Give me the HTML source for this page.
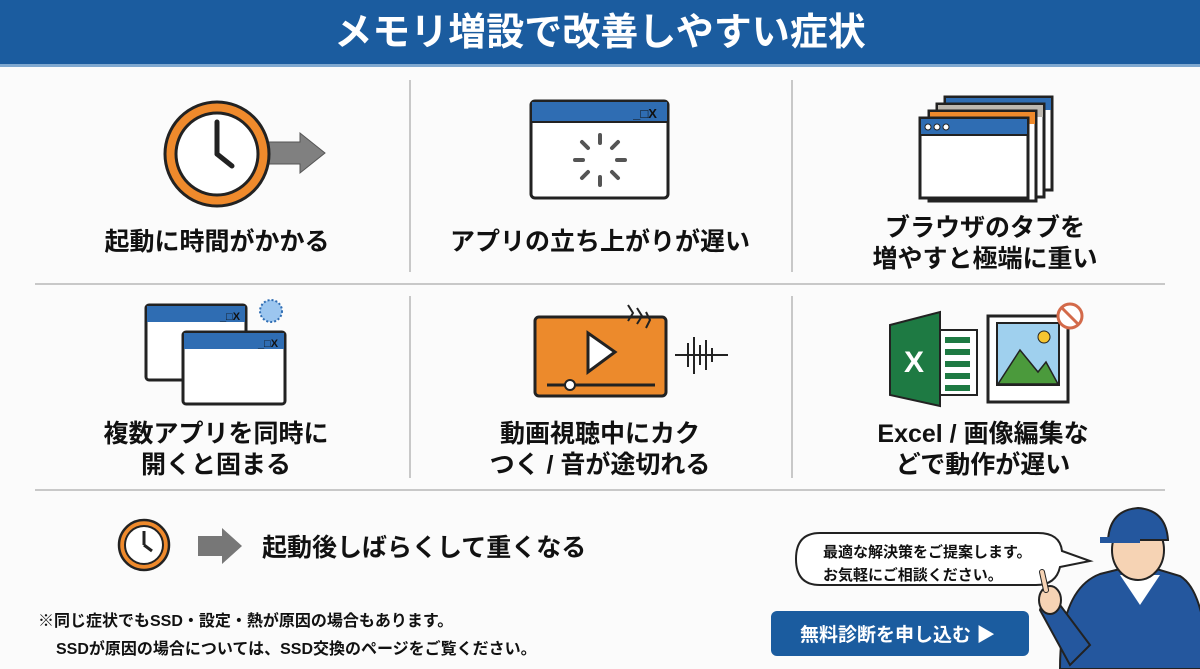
<!DOCTYPE html>
<html><head><meta charset="utf-8"><style>
html,body{margin:0;padding:0;background:#fbfbfb}
svg{display:block}
text{font-family:"Liberation Sans","Noto Sans CJK JP",sans-serif;font-weight:bold}
</style></head><body>
<svg width="1200" height="669" viewBox="0 0 1200 669" xmlns="http://www.w3.org/2000/svg">
<rect width="1200" height="669" fill="#fbfbfb"/>
<rect width="1200" height="64" fill="#1b5c9f"/>
<rect y="64" width="1200" height="3" fill="#7fa8d0"/>
<text x="600" y="45" font-size="38" fill="#fff" text-anchor="middle">メモリ増設で改善しやすい症状</text>
<g stroke="#c8c8c8" stroke-width="2">
<line x1="410" y1="80" x2="410" y2="272"/><line x1="792" y1="80" x2="792" y2="272"/>
<line x1="35" y1="284" x2="1165" y2="284"/>
<line x1="410" y1="296" x2="410" y2="478"/><line x1="792" y1="296" x2="792" y2="478"/>
<line x1="35" y1="490" x2="1165" y2="490"/>
</g>
<!-- clock 1 -->
<polygon points="268,142 300,142 300,133 325,153 300,173 300,164 268,164" fill="#808080" stroke="#555" stroke-width="1"/>
<circle cx="217" cy="154" r="52" fill="#ef8a2c" stroke="#222" stroke-width="3"/>
<circle cx="217" cy="154" r="41" fill="#fff" stroke="#222" stroke-width="3"/>
<line x1="217" y1="154" x2="217" y2="122" stroke="#222" stroke-width="5" stroke-linecap="round"/>
<line x1="217" y1="154" x2="232" y2="166" stroke="#222" stroke-width="5" stroke-linecap="round"/>
<text x="217" y="250" font-size="25" fill="#111" text-anchor="middle">起動に時間がかかる</text>
<!-- window spinner -->
<rect x="531" y="101" width="137" height="97" rx="4" fill="#fff" stroke="#222" stroke-width="3"/>
<rect x="532" y="102" width="135" height="20" fill="#2f6db3"/>
<line x1="531" y1="122" x2="668" y2="122" stroke="#222" stroke-width="2"/>
<text x="645" y="118" font-size="13" fill="#111" text-anchor="middle" font-weight="normal">_□X</text>
<g stroke="#555" stroke-width="4" stroke-linecap="round">
<line x1="600" y1="135" x2="600" y2="143"/><line x1="600" y1="177" x2="600" y2="185"/>
<line x1="575" y1="160" x2="583" y2="160"/><line x1="617" y1="160" x2="625" y2="160"/>
<line x1="582" y1="142" x2="588" y2="148"/><line x1="612" y1="172" x2="618" y2="178"/>
<line x1="618" y1="142" x2="612" y2="148"/><line x1="582" y1="178" x2="588" y2="172"/>
</g>
<text x="600" y="250" font-size="25" fill="#111" text-anchor="middle">アプリの立ち上がりが遅い</text>
<!-- tabs stack -->
<rect x="945" y="97" width="107" height="93" fill="#fff" stroke="#222" stroke-width="3"/><rect x="946" y="98" width="105" height="12" fill="#2f6db3"/>
<rect x="937" y="104" width="107" height="93" fill="#fff" stroke="#222" stroke-width="3"/><rect x="938" y="105" width="105" height="12" fill="#bdb8b0"/>
<rect x="929" y="111" width="107" height="90" fill="#fff" stroke="#222" stroke-width="3"/><rect x="930" y="112" width="105" height="12" fill="#ef8a2c"/>
<rect x="920" y="118" width="108" height="80" fill="#fff" stroke="#222" stroke-width="3"/><rect x="921" y="119" width="106" height="16" fill="#2f6db3"/>
<line x1="920" y1="135" x2="1028" y2="135" stroke="#222" stroke-width="2"/>
<circle cx="928" cy="127" r="3" fill="#fff" stroke="#222"/><circle cx="937" cy="127" r="3" fill="#fff" stroke="#222"/><circle cx="946" cy="127" r="3" fill="#fff" stroke="#222"/>
<text x="985" y="236" font-size="25" fill="#111" text-anchor="middle">ブラウザのタブを</text>
<text x="985" y="267" font-size="25" fill="#111" text-anchor="middle">増やすと極端に重い</text>
<!-- two windows -->
<rect x="146" y="305" width="100" height="75" rx="3" fill="#fff" stroke="#222" stroke-width="3"/><rect x="147" y="306" width="98" height="16" fill="#2f6db3"/>
<text x="230" y="320" font-size="11" fill="#111" text-anchor="middle" font-weight="normal">_□X</text>
<rect x="183" y="332" width="102" height="72" rx="3" fill="#fff" stroke="#222" stroke-width="3"/><rect x="184" y="333" width="100" height="16" fill="#2f6db3"/>
<text x="268" y="347" font-size="11" fill="#111" text-anchor="middle" font-weight="normal">_□X</text>
<circle cx="271" cy="311" r="11" fill="#9cc6ef" stroke="#2f6db3" stroke-width="2" stroke-dasharray="2 2"/>
<text x="216" y="442" font-size="25" fill="#111" text-anchor="middle">複数アプリを同時に</text>
<text x="216" y="473" font-size="25" fill="#111" text-anchor="middle">開くと固まる</text>
<!-- video -->
<rect x="535" y="317" width="131" height="79" rx="4" fill="#ec8a2c" stroke="#222" stroke-width="3"/>
<polygon points="588,333 588,372 615,352" fill="#fff" stroke="#222" stroke-width="3"/>
<line x1="547" y1="385" x2="655" y2="385" stroke="#222" stroke-width="3"/>
<circle cx="570" cy="385" r="5" fill="#fff" stroke="#222" stroke-width="2"/>
<path d="M628 305 l5 8 -5 8 M637 308 l5 8 -5 8 M646 312 l4 8 -4 8" fill="none" stroke="#222" stroke-width="2"/>
<g stroke="#222" stroke-width="2"><line x1="675" y1="355" x2="728" y2="355"/><line x1="688" y1="343" x2="688" y2="367"/><line x1="694" y1="337" x2="694" y2="374"/><line x1="700" y1="345" x2="700" y2="365"/><line x1="706" y1="340" x2="706" y2="370"/><line x1="712" y1="348" x2="712" y2="362"/></g>
<text x="600" y="442" font-size="25" fill="#111" text-anchor="middle">動画視聴中にカク</text>
<text x="600" y="473" font-size="25" fill="#111" text-anchor="middle">つく / 音が途切れる</text>
<!-- excel + image -->
<rect x="925" y="330" width="52" height="65" fill="#fff" stroke="#222" stroke-width="2"/>
<g stroke="#1e7a43" stroke-width="6"><line x1="945" y1="340" x2="970" y2="340"/><line x1="945" y1="352" x2="970" y2="352"/><line x1="945" y1="364" x2="970" y2="364"/><line x1="945" y1="376" x2="970" y2="376"/><line x1="945" y1="388" x2="970" y2="388"/></g>
<polygon points="890,325 940,312 940,406 890,395" fill="#1e7a43" stroke="#222" stroke-width="2"/>
<text x="914" y="372" font-size="30" fill="#fff" text-anchor="middle">X</text>
<rect x="988" y="316" width="80" height="86" fill="#fff" stroke="#222" stroke-width="3"/>
<rect x="997" y="323" width="62" height="62" fill="#9fd0ee" stroke="#222" stroke-width="2"/>
<polygon points="998,384 1020,350 1038,372 1046,362 1058,384" fill="#4b9a3c" stroke="#222" stroke-width="1.5"/>
<circle cx="1044" cy="337" r="6" fill="#f6c530" stroke="#222"/>
<circle cx="1070" cy="316" r="12" fill="#fff" stroke="#d36a4a" stroke-width="3"/><line x1="1062" y1="308" x2="1078" y2="324" stroke="#d36a4a" stroke-width="3"/>
<text x="983" y="442" font-size="25" fill="#111" text-anchor="middle">Excel / 画像編集な</text>
<text x="983" y="473" font-size="25" fill="#111" text-anchor="middle">どで動作が遅い</text>
<!-- bottom clock -->
<polygon points="198,536 222,536 222,528 242,546 222,564 222,556 198,556" fill="#777"/>
<circle cx="144" cy="545" r="25" fill="#ef8a2c" stroke="#222" stroke-width="2.5"/>
<circle cx="144" cy="545" r="19" fill="#fff" stroke="#222" stroke-width="2"/>
<line x1="144" y1="545" x2="144" y2="531" stroke="#222" stroke-width="3"/><line x1="144" y1="545" x2="152" y2="551" stroke="#222" stroke-width="3"/>
<text x="262" y="556" font-size="25" fill="#111">起動後しばらくして重くなる</text>
<text x="38" y="626" font-size="16" fill="#111">※同じ症状でもSSD・設定・熱が原因の場合もあります。</text>
<text x="56" y="654" font-size="16" fill="#111">SSDが原因の場合については、SSD交換のページをご覧ください。</text>
<!-- bubble -->
<path d="M820 533 h218 q22 0 24 18 l28 10 -30 6 q-4 18 -24 18 h-216 q-24 0 -24 -26 q0 -26 24 -26z" fill="#fff" stroke="#222" stroke-width="2"/>
<text x="823" y="557" font-size="15" fill="#111">最適な解決策をご提案します。</text>
<text x="823" y="580" font-size="15" fill="#111">お気軽にご相談ください。</text>
<rect x="771" y="611" width="258" height="45" rx="6" fill="#1b5c9f"/>
<text x="800" y="641" font-size="19" fill="#fff">無料診断を申し込む ▶</text>
<!-- man -->
<path d="M1060 669 q0 -80 40 -95 l40 -10 l40 12 q25 15 28 93z" fill="#24579e" stroke="#222" stroke-width="2"/>
<polygon points="1120,575 1160,575 1140,605" fill="#fff"/>
<ellipse cx="1138" cy="550" rx="26" ry="30" fill="#f6d3b4" stroke="#222" stroke-width="2"/>
<path d="M1108 540 q2 -30 30 -32 q28 2 30 32z" fill="#24579e" stroke="#222" stroke-width="2"/>
<path d="M1100 540 h40" stroke="#24579e" stroke-width="6"/>
<path d="M1040 610 q10 -30 20 -5 l30 40 l-20 20z" fill="#24579e" stroke="#222" stroke-width="2"/>
<ellipse cx="1050" cy="600" rx="11" ry="14" fill="#f6d3b4" stroke="#222" stroke-width="2"/>
<line x1="1046" y1="590" x2="1042" y2="572" stroke="#222" stroke-width="6" stroke-linecap="round"/>
<line x1="1046" y1="590" x2="1042" y2="572" stroke="#f6d3b4" stroke-width="4" stroke-linecap="round"/>
</svg>
</body></html>
